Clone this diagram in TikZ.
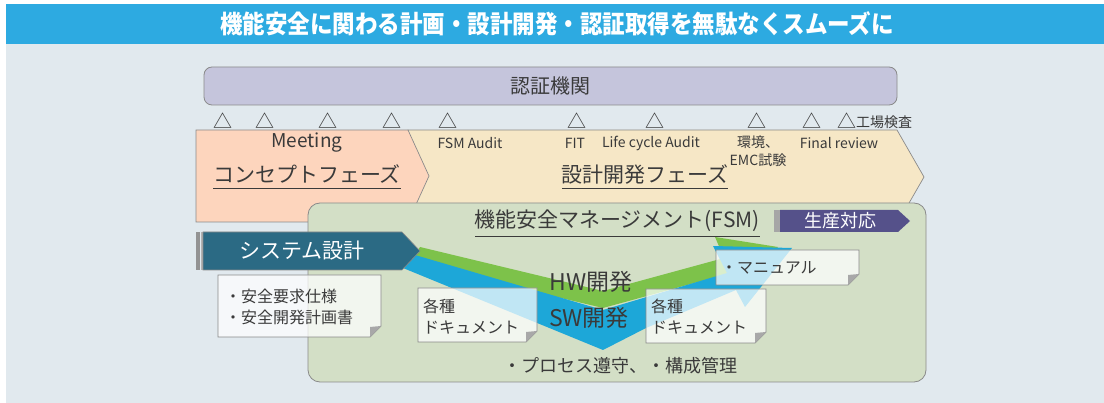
\documentclass[tikz,border=0pt]{standalone}
\usepackage{fontspec}
\setmainfont{Noto Sans CJK JP}
\definecolor{titleblue}{HTML}{2DAAE1}
\definecolor{panelbg}{HTML}{E1E9EE}
\definecolor{certfill}{HTML}{C5C5DC}
\definecolor{conceptfill}{HTML}{FDD5BD}
\definecolor{designfill}{HTML}{F6E7C6}
\definecolor{fsmfill}{HTML}{D3DFC6}
\definecolor{sysblue}{HTML}{2B6A84}
\definecolor{prodpurple}{HTML}{55518A}
\definecolor{hwgreen}{HTML}{7DC24A}
\definecolor{swblue}{HTML}{1DA7D8}
\definecolor{edgegrey}{HTML}{8A8A8A}
\definecolor{foldgrey}{HTML}{A8A8A8}
\definecolor{inkgrey}{HTML}{3A3A3A}
\tikzset{txt/.style={text=inkgrey,inner sep=1pt}}
\tikzset{tri/.style={txt,font=\fontsize{19}{19}\selectfont}}
\tikzset{smalltxt/.style={txt,font=\fontsize{14}{18}\selectfont,align=center}}
\tikzset{phasetxt/.style={txt,font=\fontsize{21}{21}\selectfont}}
\tikzset{notetxt/.style={txt,font=\fontsize{16}{21}\selectfont,align=left,anchor=west}}
\tikzset{outline/.style={draw=edgegrey,line width=0.8pt}}
% card with a folded lower right corner: x1,y1,x2,y2
\newcommand{\notecard}[4]{%
  \draw[outline,fill=white,fill opacity=0.72] (#1,#2) -- (#3,#2) -- (#3,#4-11) -- (#3-11,#4) -- (#1,#4) -- cycle;
  \fill[foldgrey] (#3,#4-11) -- (#3-11,#4) -- (#3-11,#4-10) -- cycle;}

\begin{document}
\begin{tikzpicture}[x=1pt,y=-1pt]
\useasboundingbox (0,0) rectangle (1104,403);
% background and title strip
\fill[white] (0,0) rectangle (1104,403);
\fill[panelbg] (6,44) rectangle (1104,403);
\fill[titleblue] (6,4) rectangle (1104,44);
\node[inner sep=0pt,text=white,font=\bfseries\fontsize{25}{25}\selectfont] at (557,24) (title) {\scalebox{0.9}[1]{機能安全に関わる計画・設計開発・認証取得を無駄なくスムーズに}};

% certification body
\node[outline,fill=certfill,rounded corners=8pt,minimum width=693,minimum height=38,txt,font=\fontsize{20}{20}\selectfont] at (550.5,86) (cert) {認証機関};

% review marks
\foreach \tx in {223,265,328,392,448,577,655,757,812,847}
  \node[tri] at (\tx,121) (tri\tx) {△};
\node[txt,anchor=west,font=\fontsize{14}{14}\selectfont] at (855,122) (factory) {工場検査};

% design phase, then concept phase on top
\draw[outline,line width=0.7pt,fill=designfill] (408,130) -- (897,130) -- (924,177) -- (897,224) -- (408,224) -- cycle;
\draw[outline,line width=0.7pt,fill=conceptfill] (196,130) -- (408,130) -- (429,176) -- (408,222) -- (196,222) -- cycle;

\node[txt,font=\fontsize{19}{19}\selectfont] at (307,143) (meeting) {Meeting};
\node[phasetxt] at (307,174) (concept) {コンセプトフェーズ};
\draw[inkgrey,line width=0.9pt] (213,188) -- (401,188);

\node[smalltxt] at (470,143) (fsmaudit) {FSM Audit};
\node[smalltxt] at (575,143) (fit) {FIT};
\node[smalltxt] at (651,143) (lifecycle) {Life cycle Audit};
\node[smalltxt] at (758,151) (emc) {環境、\\EMC試験};
\node[smalltxt] at (839,143) (final) {Final review};
\node[phasetxt] at (645,174) (design) {設計開発フェーズ};
\draw[inkgrey,line width=0.9pt] (562,188) -- (728,188);

% functional safety management frame
\node[outline,fill=fsmfill,rounded corners=12pt,minimum width=618,minimum height=179] at (617,292.5) (fsm) {};
\node[phasetxt] at (617,221) (fsmtitle) {機能安全マネージメント(FSM)};
\draw[inkgrey,line width=0.9pt] (475,236) -- (760,236);

% production arrow
\fill[gray!70] (774,210) rectangle (780,232);
\fill[prodpurple] (780,210) -- (898,210) -- (910,221) -- (898,232) -- (780,232) -- cycle;
\node[txt,text=white,font=\fontsize{18}{18}\selectfont] at (840,221) (prod) {生産対応};

% HW and SW development bands (left ends go under the system arrow)
\fill[hwgreen] (420,247) -- (603,291) -- (724,258) -- (715,237) -- (778,247) -- (743,298) -- (731,273) -- (603,308) -- (410,262) -- cycle;
\fill[swblue] (415,255) -- (603,310) -- (727,273) -- (713,246) -- (792,248) -- (745,307) -- (736,290) -- (646,328) -- (603,350) -- (403,268) -- cycle;

% system design arrow
\fill[gray!85] (196,232) rectangle (199.5,270);
\fill[gray!60] (200.5,232) rectangle (203,270);
\draw[edgegrey,line width=0.6pt,fill=sysblue] (203,232) -- (402,232) -- (420,251) -- (402,270) -- (203,270) -- cycle;
\node[txt,text=white,font=\fontsize{21}{21}\selectfont] at (302,251) (sys) {システム設計};

% document cards
\notecard{218}{275}{381}{337}
\notecard{418}{288}{537}{342}
\notecard{646}{289}{766}{343}
\notecard{716}{250}{859}{285}
\node[notetxt] at (224,306.5) (spec) {・安全要求仕様\\・安全開発計画書};
\node[notetxt] at (422,317) (docsleft) {各種\\ドキュメント};
\node[notetxt] at (650,317) (docsright) {各種\\ドキュメント};
\node[notetxt] at (720,268) (manual) {・マニュアル};

\node[txt,font=\fontsize{23}{23}\selectfont] at (591,282) (hw) {HW開発};
\node[txt,font=\fontsize{23}{23}\selectfont] at (589,318) (sw) {SW開発};
\node[txt,font=\fontsize{18}{18}\selectfont] at (620,366) (process) {・プロセス遵守、・構成管理};
\end{tikzpicture}
\end{document}
